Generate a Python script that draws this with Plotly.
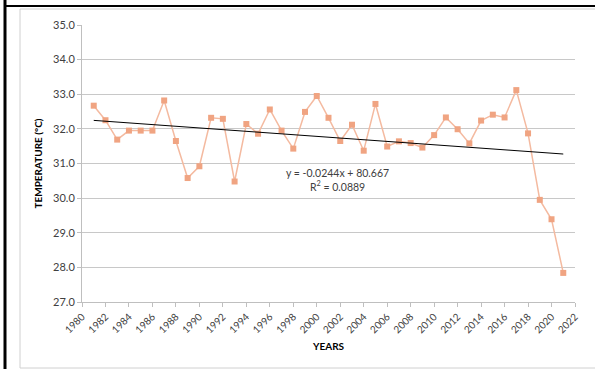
import numpy as np
import plotly.graph_objects as go

years = list(range(1981, 2022))
temps = [32.67, 32.25, 31.69, 31.95, 31.95, 31.95, 32.82, 31.65, 30.58, 30.92,
         32.32, 32.29, 30.48, 32.14, 31.86, 32.56, 31.95, 31.43, 32.49, 32.95,
         32.32, 31.65, 32.12, 31.37, 32.72, 31.49, 31.64, 31.59, 31.46, 31.82,
         32.33, 31.99, 31.58, 32.24, 32.41, 32.33, 33.12, 31.87, 29.95, 29.39,
         27.84]
x_ticks = list(range(1980, 2023, 2))
y_ticks = [27.0, 28.0, 29.0, 30.0, 31.0, 32.0, 33.0, 34.0, 35.0]
eq_text = "y = -0.0244x + 80.667<br>R<sup>2</sup> = 0.0889"

slope, intercept = np.polyfit(years, temps, 1)
trend = [slope * y + intercept for y in years]

W, H = 595, 369
L, R, T, B = 82, 20, 25, 67
pw, ph = W - L - R, H - T - B

def px(x):
    return (x - L) / pw

def py(y):
    return (H - B - y) / ph

fig = go.Figure()
fig.add_trace(go.Scatter(
    x=years, y=temps, mode="lines+markers",
    line=dict(color="#F4BAA0", width=1.5),
    marker=dict(symbol="square", size=6, color="#F0A482"),
    showlegend=False, hoverinfo="skip"))
fig.add_trace(go.Scatter(
    x=years, y=trend, mode="lines",
    line=dict(color="#000000", width=1),
    showlegend=False, hoverinfo="skip"))

font = "Lato, 'Open Sans', sans-serif"
fig.update_layout(
    width=W, height=H,
    margin=dict(l=L, r=R, t=T, b=B),
    paper_bgcolor="white", plot_bgcolor="white",
    font=dict(family=font, size=10, color="#404040"),
    xaxis=dict(range=[1980, 2022], tickvals=x_ticks, ticktext=[str(v) for v in x_ticks],
               tickangle=-45, showgrid=False, zeroline=False,
               showline=True, linecolor="#bfbfbf", linewidth=1,
               ticks="outside", ticklen=4, tickcolor="#bfbfbf",
               tickfont=dict(size=10, color="#404040"),
               title=dict(text="<b>YEARS</b>", font=dict(size=10, color="#000000"), standoff=8)),
    yaxis=dict(range=[27, 35], tickvals=y_ticks, ticktext=[f"{v:.1f}" for v in y_ticks],
               showgrid=True, gridcolor="#c8c8c8", gridwidth=1, zeroline=False,
               showline=True, linecolor="#bfbfbf", linewidth=1,
               ticks="outside", ticklen=4, tickcolor="#bfbfbf",
               tickfont=dict(size=11, color="#404040"),
               title=dict(text="<b>TEMPERATURE (°C)</b>", font=dict(size=10, color="#000000"), standoff=8)),
)

fig.add_annotation(text=eq_text, xref="paper", yref="paper",
                   x=px(337), y=py(180), showarrow=False,
                   font=dict(size=10.5, color="#404040", family=font), align="center")

# chart area frame
fig.add_shape(type="rect", xref="paper", yref="paper",
              x0=px(20), x1=px(600), y0=py(368), y1=py(9),
              line=dict(color="#d0d0d0", width=1), layer="below")
# outer black frame lines (left and top)
fig.add_shape(type="line", xref="paper", yref="paper",
              x0=px(5), x1=px(5), y0=py(0), y1=py(369),
              line=dict(color="#000000", width=3))
fig.add_shape(type="line", xref="paper", yref="paper",
              x0=px(4), x1=px(595), y0=py(6), y1=py(6),
              line=dict(color="#000000", width=2))

fig.write_html("out.html")
